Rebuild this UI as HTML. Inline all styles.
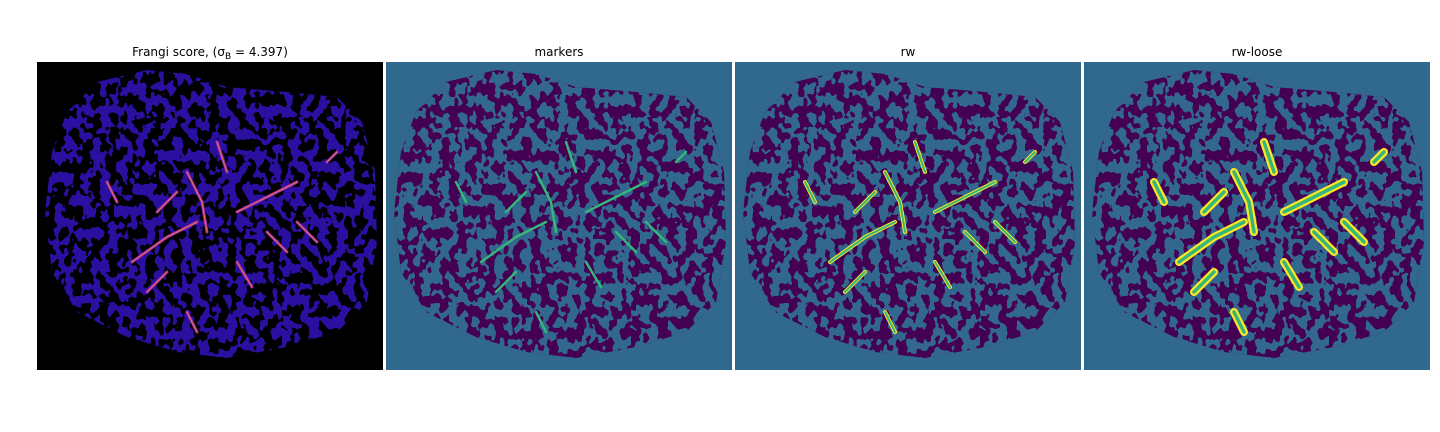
<!DOCTYPE html>
<html><head><meta charset="utf-8"><style>
body{margin:0;background:#fff;width:1440px;height:432px;overflow:hidden;font-family:"DejaVu Sans","Liberation Sans",sans-serif}
svg{position:absolute;left:0;top:0}
</style></head><body>
<svg width="1440" height="432">
<defs>
<filter id="texTeal" x="0" y="0" width="100%" height="100%">
<feTurbulence type="fractalNoise" baseFrequency="0.11 0.09" numOctaves="2" seed="3" result="n"/>
<feColorMatrix in="n" type="matrix" values="0 0 0 0 0  0 0 0 0 0  0 0 0 0 0  2.2 0 0 0 -0.6" result="a"/>
<feComponentTransfer in="a" result="m"><feFuncA type="discrete" tableValues="0 1"/></feComponentTransfer>
<feFlood flood-color="#31688e"/>
<feComposite in2="m" operator="in"/>
</filter>
<filter id="texBlack" x="0" y="0" width="100%" height="100%">
<feTurbulence type="fractalNoise" baseFrequency="0.11 0.09" numOctaves="2" seed="3" result="n"/>
<feColorMatrix in="n" type="matrix" values="0 0 0 0 0  0 0 0 0 0  0 0 0 0 0  2.2 0 0 0 -0.6" result="a"/>
<feComponentTransfer in="a" result="m"><feFuncA type="discrete" tableValues="0 1"/></feComponentTransfer>
<feFlood flood-color="#000000"/>
<feComposite in2="m" operator="in"/>
</filter>
<clipPath id="blob"><path d="M60,20 L110,8 L150,12 L190,25 L250,30 L300,35 L325,60 L338,110 L340,180 L330,240 L300,270 L250,285 L190,296 L140,290 L90,275 L40,250 L15,210 L8,150 L15,90 L30,50 Z"/></clipPath>
<g id="vessels" fill="none" stroke-linecap="round">
<path d="M95,200 L130,175 L160,160"/><path d="M150,110 L165,140 L170,170"/><path d="M200,150 L240,130 L260,120"/><path d="M120,150 L140,130"/><path d="M230,170 L250,190"/><path d="M180,80 L190,110"/><path d="M110,230 L130,210"/><path d="M260,160 L280,180"/><path d="M70,120 L80,140"/><path d="M200,200 L215,225"/><path d="M150,250 L160,270"/><path d="M290,100 L300,90"/>
</g>
</defs>
<g font-size="12" fill="#000" text-anchor="middle">
<text x="210" y="56">Frangi score, (σ<tspan font-size="9" dy="3">B</tspan><tspan dy="-3"> = 4.397)</tspan></text>
<text x="559" y="56">markers</text>
<text x="908" y="56">rw</text>
<text x="1257" y="56">rw-loose</text>
</g>
<g transform="translate(37,62)">
<rect width="346" height="308" fill="#000"/>
<g clip-path="url(#blob)"><rect width="346" height="308" fill="#2a0fa0"/>
<rect width="346" height="308" fill="#000" filter="url(#texBlack)"/>
<use href="#vessels" stroke="#9c2ba8" stroke-width="3"/><use href="#vessels" stroke="#e86f5c" stroke-width="1"/></g>
</g>
<g transform="translate(386,62)">
<rect width="346" height="308" fill="#31688e"/>
<g clip-path="url(#blob)"><rect width="346" height="308" fill="#440154"/>
<rect width="346" height="308" filter="url(#texTeal)"/>
<use href="#vessels" stroke="#35b779" stroke-width="2.5"/></g>
</g>
<g transform="translate(735,62)">
<rect width="346" height="308" fill="#31688e"/>
<g clip-path="url(#blob)"><rect width="346" height="308" fill="#440154"/>
<rect width="346" height="308" filter="url(#texTeal)"/>
<use href="#vessels" stroke="#fde725" stroke-width="4"/><use href="#vessels" stroke="#35b779" stroke-width="2"/></g>
</g>
<g transform="translate(1084,62)">
<rect width="346" height="308" fill="#31688e"/>
<g clip-path="url(#blob)"><rect width="346" height="308" fill="#440154"/>
<rect width="346" height="308" filter="url(#texTeal)"/>
<use href="#vessels" stroke="#fde725" stroke-width="8"/><use href="#vessels" stroke="#35b779" stroke-width="3.5"/></g>
</g>
</svg>
</body></html>
